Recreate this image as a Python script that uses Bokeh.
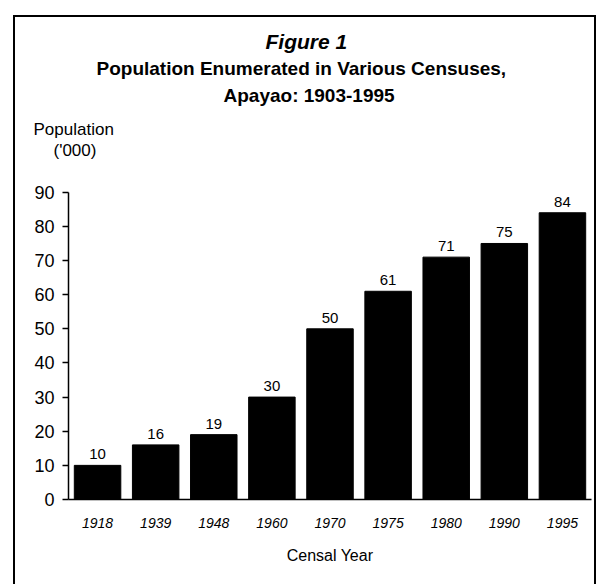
from bokeh.plotting import figure
from bokeh.models import FactorRange, Range1d, ColumnDataSource, FixedTicker, Title
from bokeh.core.properties import value
from bokeh.embed import file_html
from bokeh.resources import INLINE

years = ["1918", "1939", "1948", "1960", "1970", "1975", "1980", "1990", "1995"]
population = [10, 16, 19, 30, 50, 61, 71, 75, 84]
y_ticks = [0, 10, 20, 30, 40, 50, 60, 70, 80, 90]

title_main = "Figure 1"
title_line2 = "Population Enumerated in Various Censuses,"
title_line3 = "Apayao: 1903-1995"
y_label_1 = "Population"
y_label_2 = "('000)"
x_label = "Censal Year"

FONT = "Liberation Sans"

src = ColumnDataSource(dict(x=years, top=population, lab=[str(v) for v in population]))

p = figure(
    x_range=FactorRange(*years),
    y_range=Range1d(0, 99.6),
    width=599, height=584,
    output_backend="svg", toolbar_location=None,
    min_border_left=68, min_border_right=8, min_border_top=159, min_border_bottom=85,
)
# outer frame drawn as CSS background lines (left, top, right) behind a transparent canvas
p.styles = {
    "background-color": "white",
    "background-image": ", ".join(["linear-gradient(black, black)"] * 3),
    "background-position": "13px 15px, 13px 15px, 594px 15px",
    "background-size": "2px 580px, 583px 2px, 2px 580px",
    "background-repeat": "no-repeat",
}
p.outline_line_color = None
p.grid.grid_line_color = None
p.background_fill_color = None
p.border_fill_color = None

p.vbar(x="x", top="top", width=0.8, source=src, color="black")
p.text(x="x", y="top", text="lab", source=src, text_align="center",
       text_baseline="bottom", y_offset=-6, text_font=value(FONT),
       text_font_size="15px", text_color="black")

# y axis
ya = p.yaxis[0]
ya.ticker = FixedTicker(ticks=y_ticks)
ya.bounds = (0, 90)
ya.major_label_text_font = FONT
ya.major_label_text_font_size = "18px"
ya.major_label_text_color = "black"
ya.major_tick_in = 0
ya.major_tick_out = 6
ya.minor_tick_line_color = None
ya.axis_line_color = "black"
ya.axis_line_width = 1.5
ya.major_tick_line_width = 1.5
ya.major_label_standoff = 8

xa = p.xaxis[0]
xa.major_label_text_font = FONT
xa.major_label_text_font_style = "italic"
xa.major_label_text_font_size = "14px"
xa.major_label_text_color = "black"
xa.major_tick_line_color = None
xa.major_label_standoff = 12
xa.axis_line_color = "black"
xa.axis_line_width = 1.5
xa.axis_label = x_label
xa.axis_label_text_font = FONT
xa.axis_label_text_font_style = "normal"
xa.axis_label_text_font_size = "16px"
xa.axis_label_text_color = "black"
xa.axis_label_standoff = 16

# titles: first added is nearest the plot frame
def add_title(text, size, style, offset, standoff):
    p.add_layout(Title(text=text, text_font=FONT, text_font_size=size,
                       text_font_style=style, align="left", offset=offset,
                       standoff=standoff, text_color="black"), "above")

add_title(y_label_2, "17px", "normal", -15, 0)
add_title(y_label_1, "17px", "normal", -35, 0)
add_title(title_line3, "19px", "bold", 155, 24)
add_title(title_line2, "19px", "bold", 28, -16)
add_title(title_main, "21px", "bold italic", 197, 21)

open("out.html", "w").write(file_html(p, INLINE))
